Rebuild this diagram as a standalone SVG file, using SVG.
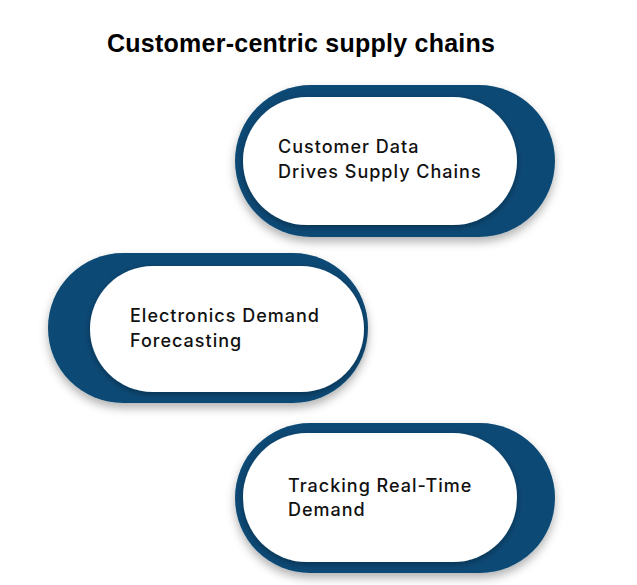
<svg xmlns="http://www.w3.org/2000/svg" width="637" height="585" viewBox="0 0 637 585">
<defs>
<filter id="sh" x="-20%" y="-20%" width="140%" height="150%">
<feDropShadow dx="0" dy="5" stdDeviation="5" flood-color="#000" flood-opacity="0.3"/>
</filter>
<filter id="sh2" x="-20%" y="-20%" width="140%" height="150%">
<feDropShadow dx="0" dy="2" stdDeviation="3" flood-color="#000" flood-opacity="0.35"/>
</filter>
</defs>
<style>
.outer{fill:#0b4a74;filter:url(#sh)}
.inner{fill:#ffffff;filter:url(#sh2)}
.lbl{font-family:"Inter","Liberation Sans",sans-serif;font-size:18px;font-weight:500;letter-spacing:1px;fill:#111111}
.title{font-family:"Liberation Sans",sans-serif;font-weight:bold;font-size:25px;fill:#000}
</style>
<rect width="637" height="585" fill="#ffffff"/>
<text class="title" x="107" y="52" textLength="388">Customer-centric supply chains</text>
<g id="connectors"></g>
<g id="node1">
<rect class="outer" x="235" y="85" width="320" height="152" rx="76"/>
<rect class="inner" x="243" y="97" width="274" height="128" rx="64"/>
<text class="lbl" x="278" y="153">Customer Data</text>
<text class="lbl" x="278" y="178">Drives Supply Chains</text>
</g>
<g id="node2">
<rect class="outer" x="48" y="253" width="320" height="150" rx="75"/>
<rect class="inner" x="90" y="266" width="274" height="126" rx="63"/>
<text class="lbl" x="130" y="322">Electronics Demand</text>
<text class="lbl" x="130" y="347">Forecasting</text>
</g>
<g id="node3">
<rect class="outer" x="235" y="423" width="320" height="150" rx="75"/>
<rect class="inner" x="243" y="433" width="274" height="129" rx="64"/>
<text class="lbl" x="288" y="492">Tracking Real-Time</text>
<text class="lbl" x="288" y="516">Demand</text>
</g>
</svg>
